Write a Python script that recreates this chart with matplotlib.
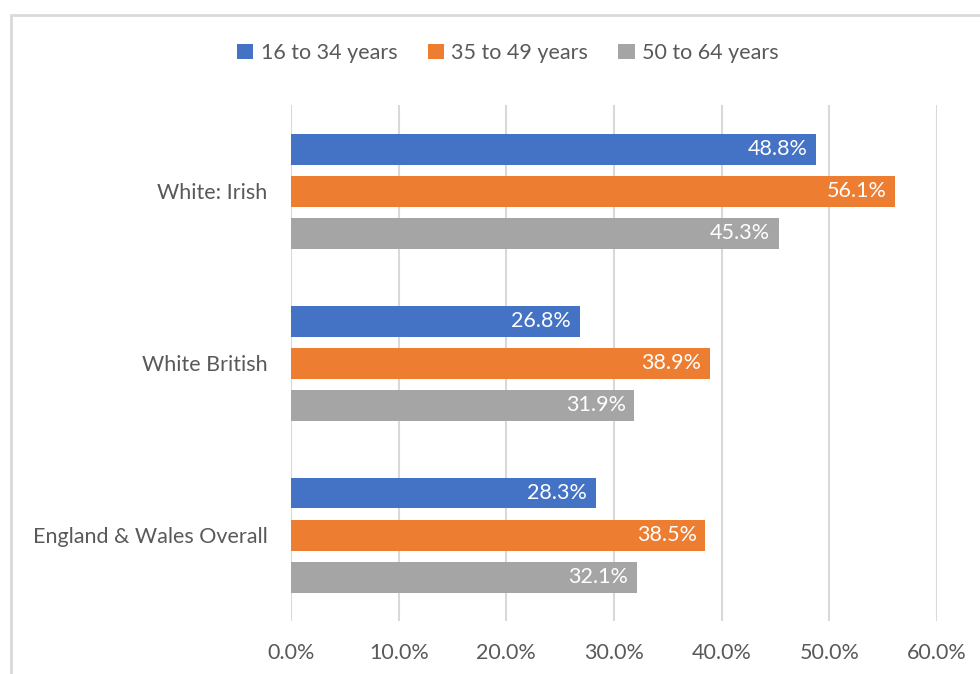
import matplotlib.pyplot as plt
from matplotlib.patches import Rectangle
import numpy as np

categories = ["England & Wales Overall", "White British", "White: Irish"]
series_names = ["16 to 34 years", "35 to 49 years", "50 to 64 years"]
age_16_34 = [28.3, 26.8, 48.8]
age_35_49 = [38.5, 38.9, 56.1]
age_50_64 = [32.1, 31.9, 45.3]
colors = ["#4472C4", "#ED7D31", "#A5A5A5"]

plt.rcParams["font.family"] = ["Lato", "DejaVu Sans"]
text_color = "#595959"
fs = 15.5

fig = plt.figure(figsize=(9.8, 6.74), dpi=100)
ax = fig.add_axes([0.297, 0.0786, 0.659, 0.765])

# chart frame in light grey, running off the right and bottom edges
fig.patches.append(Rectangle((11 / 980, -0.1), 1.2, 0.1 + 1 - 15 / 674,
                             transform=fig.transFigure, fill=False,
                             edgecolor="#d9d9d9", linewidth=2))

y = np.arange(len(categories))
h = 0.18
offsets = [0.245, 0.0, -0.245]
for vals, name, col, off in zip([age_16_34, age_35_49, age_50_64], series_names, colors, offsets):
    bars = ax.barh(y + off, vals, height=h, color=col, label=name, zorder=3)
    for b, v in zip(bars, vals):
        ax.text(v - 0.8, b.get_y() + b.get_height() / 2, f"{v:.1f}%",
                ha="right", va="center", color="white", fontsize=fs, zorder=4)

ax.set_xlim(0, 60)
ax.set_ylim(-0.5, 2.5)
ax.set_xticks(np.arange(0, 61, 10))
ax.set_xticklabels([f"{t:.1f}%" for t in np.arange(0, 61, 10)])
ax.set_yticks(y)
ax.set_yticklabels(categories)
ax.tick_params(axis="both", length=0, labelsize=fs, colors=text_color)
ax.tick_params(axis="x", pad=16)
ax.tick_params(axis="y", pad=17)
ax.grid(axis="x", color="#d9d9d9", linewidth=1.5, zorder=0)
for s in ax.spines.values():
    s.set_visible(False)

fig.legend(loc="center", bbox_to_anchor=(508 / 980, 1 - 53 / 674), ncol=3,
           frameon=False, fontsize=fs, labelcolor=text_color,
           handlelength=0.75, handleheight=0.75, handletextpad=0.35, columnspacing=1.4)

fig.savefig("out.png", dpi=100)
